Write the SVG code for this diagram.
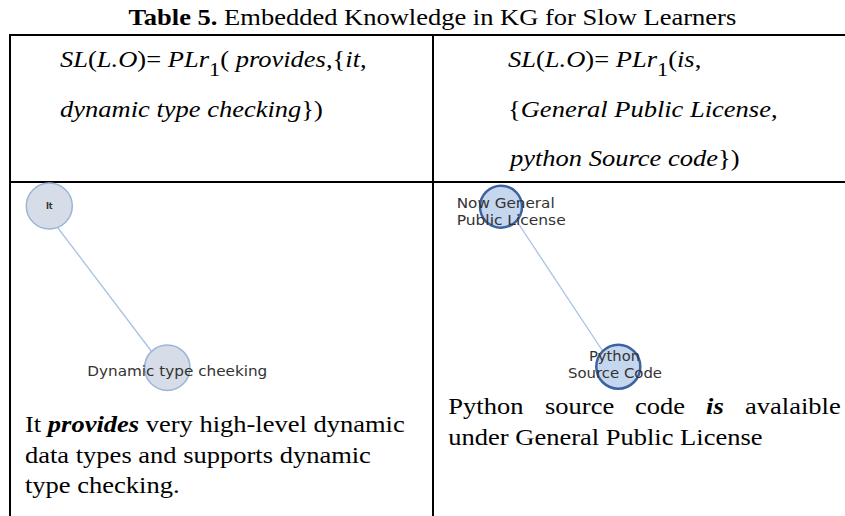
<svg xmlns="http://www.w3.org/2000/svg" width="845" height="516" viewBox="0 0 845 516">
<style>
.serif{font-family:"Liberation Serif","Times New Roman",serif;font-size:22.5px;fill:#000}
.it{font-style:italic}
.bi{font-style:italic;font-weight:bold}
.b{font-weight:bold}
.grid{stroke:#000;stroke-width:2;fill:none}
.lbl{font-family:"DejaVu Sans",Verdana,sans-serif;font-size:14px;fill:#333}
.n1{fill:#d6dde8;stroke:#9db5d6;stroke-width:1.5}
.n2{fill:#c5d6ef;stroke:#3d62a0;stroke-width:2.5}
.edge{stroke:#a9c2e2;stroke-width:1.3;fill:none}
</style>
<rect width="845" height="516" fill="#fff"/>
<g id="title">
<text class="serif" transform="translate(128.6 25) scale(1.178 1)"><tspan class="b">Table 5.</tspan> Embedded Knowledge in KG for Slow Learners</text>
</g>
<g id="table-grid">
<line class="grid" x1="9" y1="35" x2="845" y2="35"/>
<line class="grid" x1="9" y1="182" x2="845" y2="182"/>
<line class="grid" x1="10" y1="34" x2="10" y2="516"/>
<line class="grid" x1="433" y1="34" x2="433" y2="516"/>
</g>
<g id="formula-left">
<text class="serif" transform="translate(60 67) scale(1.178 1)"><tspan class="it">SL</tspan>(<tspan class="it">L.O</tspan>)= <tspan class="it">PLr</tspan><tspan font-size="19" dy="9">1</tspan><tspan dy="-9">( </tspan><tspan class="it">provides</tspan>,{<tspan class="it">it</tspan>,</text>
<text class="serif" transform="translate(60 117) scale(1.178 1)"><tspan class="it">dynamic type checking</tspan>})</text>
</g>
<g id="formula-right">
<text class="serif" transform="translate(508 67) scale(1.178 1)"><tspan class="it">SL</tspan>(<tspan class="it">L.O</tspan>)= <tspan class="it">PLr</tspan><tspan font-size="19" dy="9">1</tspan><tspan dy="-9">(</tspan><tspan class="it">is</tspan>,</text>
<text class="serif" transform="translate(508 117) scale(1.178 1)">{<tspan class="it">General Public License</tspan>,</text>
<text class="serif" transform="translate(510 166) scale(1.178 1)"><tspan class="it">python Source code</tspan>})</text>
</g>
<g id="connectors">
<line class="edge" x1="58" y1="228" x2="152" y2="352"/>
<line class="edge" x1="518" y1="223" x2="602" y2="350"/>
</g>
<g id="node-it">
<circle class="n1" cx="49.3" cy="206" r="23"/>
<text x="49.3" y="209" text-anchor="middle" font-family="DejaVu Sans,sans-serif" font-size="8" font-weight="bold" fill="#333">It</text>
</g>
<g id="node-dynamic">
<circle class="n1" cx="167.3" cy="367.7" r="22.7"/>
<text class="lbl" x="87.3" y="376" textLength="180" lengthAdjust="spacingAndGlyphs">Dynamic type cheeking</text>
</g>
<g id="node-gpl">
<circle class="n2" cx="501" cy="206.7" r="21"/>
<text class="lbl" x="456.7" y="208" textLength="98" lengthAdjust="spacingAndGlyphs">Now General</text>
<text class="lbl" x="456.7" y="225" textLength="109" lengthAdjust="spacingAndGlyphs">Public License</text>
</g>
<g id="node-python">
<circle class="n2" cx="618.3" cy="366.7" r="22"/>
<text class="lbl" x="589" y="361" textLength="51" lengthAdjust="spacingAndGlyphs">Python</text>
<text class="lbl" x="568" y="378" textLength="94" lengthAdjust="spacingAndGlyphs">Source Code</text>
</g>
<g id="para-left">
<text class="serif" transform="translate(25 432) scale(1.178 1)">It <tspan class="bi">provides</tspan> very high-level dynamic</text>
<text class="serif" transform="translate(25 463) scale(1.178 1)">data types and supports dynamic</text>
<text class="serif" transform="translate(25 493) scale(1.178 1)">type checking.</text>
</g>
<g id="para-right">
<text class="serif" transform="translate(448.3 414) scale(1.178 1)">Python<tspan x="82.1">source</tspan><tspan x="158.5">code</tspan><tspan x="218.8" class="bi">is</tspan><tspan x="251.9">avalaible</tspan></text>
<text class="serif" transform="translate(448.3 445) scale(1.178 1)">under General Public License</text>
</g>
</svg>
